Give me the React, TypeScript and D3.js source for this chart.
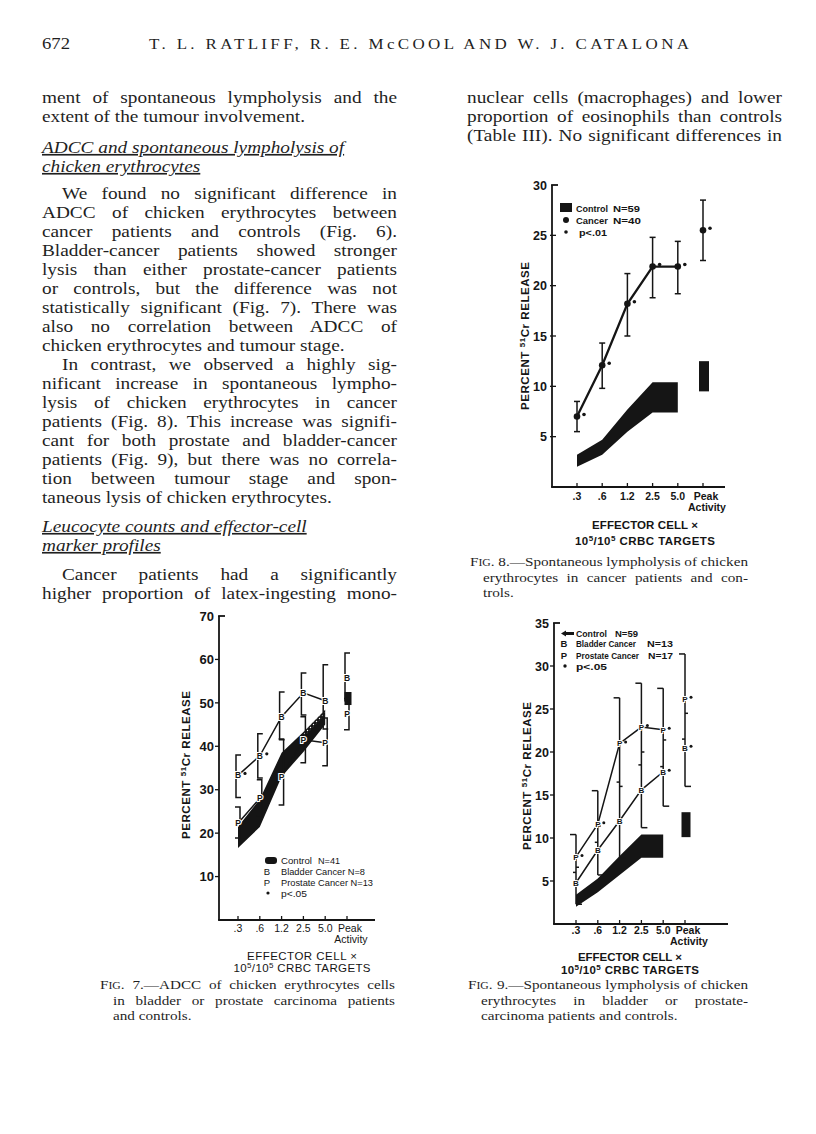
import React, { useLayoutEffect, useRef } from 'react';
import * as d3 from 'd3';

// ---------- shared ----------
const categories = ['.3', '.6', '1.2', '2.5', '5.0', 'Peak'];
const bandCategories = ['.3', '.6', '1.2', '2.5', '5.0'];

// ---------- Fig. 7: ADCC of chicken erythrocytes ----------
const fig7Ticks = [10, 20, 30, 40, 50, 60, 70];
const fig7BladderMean = [33.3, 37.8, 46.8, 52.3, 50.5, 55.8];
const fig7BladderLow = [28.2, 32.7, 41.5, 47.2, 44.0, 50.5];
const fig7BladderHigh = [38.0, 42.9, 52.5, 56.9, 58.8, 61.5];
const fig7BladderSig = [true, true, false, false, false, false];
const fig7ProstateMean = [22.3, 28.0, 33.0, 41.5, 40.8, 47.5];
const fig7ProstateLow = [18.9, 24.0, 26.5, 36.2, 35.5, 43.8];
const fig7ProstateHigh = [26.0, 32.3, 41.7, 46.8, 46.5, 51.0];
const fig7ControlUpper = [21.5, 27.8, 38.5, 43.3, 48.4];
const fig7ControlLower = [16.6, 21.4, 33.0, 38.7, 45.0];
const fig7ControlPeak = [49.5, 52.5];
const fig7StippleCategories = ['2.5', '5.0'];

// ---------- Fig. 8: spontaneous lympholysis, cancer vs control ----------
const fig8Ticks = [5, 10, 15, 20, 25, 30];
const fig8CancerMean = [7.0, 12.1, 18.2, 21.9, 21.9, 25.5];
const fig8CancerLow = [5.5, 9.8, 15.0, 18.8, 19.2, 22.5];
const fig8CancerHigh = [8.5, 14.3, 21.2, 24.8, 24.4, 28.5];
const fig8ControlUpper = [3.2, 4.7, 7.7, 10.4, 10.4];
const fig8ControlLower = [2.0, 3.2, 5.5, 7.4, 7.4];
const fig8ControlPeak = [9.5, 12.5];

// ---------- Fig. 9: spontaneous lympholysis, bladder / prostate ----------
const fig9Ticks = [5, 10, 15, 20, 25, 30, 35];
const fig9ProstateMean = [7.8, 11.6, 21.0, 22.9, 22.6, 26.2];
const fig9ProstateLow = [6.0, 9.5, 16.5, 18.5, 18.3, 21.5];
const fig9ProstateHigh = [10.4, 15.5, 26.3, 28.0, 27.4, 31.4];
const fig9ProstateSig = [true, true, true, true, true, true];
const fig9BladderMean = [4.8, 8.6, 12.0, 15.6, 17.7, 20.5];
const fig9BladderLow = [2.3, 5.7, 7.7, 11.2, 13.7, 16.0];
const fig9BladderHigh = [6.6, 11.4, 16.0, 20.0, 21.4, 24.5];
const fig9BladderSig = [false, false, false, false, true, true];
const fig9ControlUpper = [3.4, 5.3, 7.9, 10.4, 10.4];
const fig9ControlLower = [2.0, 3.7, 5.7, 7.7, 7.7];
const fig9ControlPeak = [10.1, 13.0];

// ---------- page text ----------
const headerNumber = '672';
const headerTitle = 'T. L. RATLIFF, R. E. McCOOL AND W. J. CATALONA';

const leftColumn = [
  { t: 'ment of spontaneous lympholysis and the', k: 'j' },
  { t: 'extent of the tumour involvement.', k: 'l' },
  { t: 'ADCC and spontaneous lympholysis of', k: 'h', gap: 12 },
  { t: 'chicken erythrocytes', k: 'h' },
  { t: 'We found no significant difference in', k: 'j', ind: true, gap: 8 },
  { t: 'ADCC of chicken erythrocytes between', k: 'j' },
  { t: 'cancer patients and controls (Fig. 6).', k: 'j' },
  { t: 'Bladder-cancer patients showed stronger', k: 'j' },
  { t: 'lysis than either prostate-cancer patients', k: 'j' },
  { t: 'or controls, but the difference was not', k: 'j' },
  { t: 'statistically significant (Fig. 7). There was', k: 'j' },
  { t: 'also no correlation between ADCC of', k: 'j' },
  { t: 'chicken erythrocytes and tumour stage.', k: 'l' },
  { t: 'In contrast, we observed a highly sig-', k: 'j', ind: true },
  { t: 'nificant increase in spontaneous lympho-', k: 'j' },
  { t: 'lysis of chicken erythrocytes in cancer', k: 'j' },
  { t: 'patients (Fig. 8). This increase was signifi-', k: 'j' },
  { t: 'cant for both prostate and bladder-cancer', k: 'j' },
  { t: 'patients (Fig. 9), but there was no correla-', k: 'j' },
  { t: 'tion between tumour stage and spon-', k: 'j' },
  { t: 'taneous lysis of chicken erythrocytes.', k: 'l' },
  { t: 'Leucocyte counts and effector-cell', k: 'h', gap: 10 },
  { t: 'marker profiles', k: 'h' },
  { t: 'Cancer patients had a significantly', k: 'j', ind: true, gap: 10 },
  { t: 'higher proportion of latex-ingesting mono-', k: 'j' },
];

const rightColumn = [
  { t: 'nuclear cells (macrophages) and lower', k: 'j' },
  { t: 'proportion of eosinophils than controls', k: 'j' },
  { t: '(Table III). No significant differences in', k: 'j' },
];

const caption7 = ['7.—ADCC of chicken erythrocytes cells', 'in bladder or prostate carcinoma patients', 'and controls.'];
const caption8 = ['8.—Spontaneous lympholysis of chicken', 'erythrocytes in cancer patients and con-', 'trols.'];
const caption9 = ['9.—Spontaneous lympholysis of chicken', 'erythrocytes in bladder or prostate-', 'carcinoma patients and controls.'];

const SERIF = "'Liberation Serif', 'Times New Roman', serif";
const SANS = "'Liberation Sans', Arial, sans-serif";
const INK = '#151515';
const TEXT_INK = '#1f1f1f';

const LINE = 19;
const INDENT = 20;
const STRETCH = 1.17; // the printed face is wider than Times

// justify lines by spreading word spacing so each reaches its wanted width
function useJustify() {
  const ref = useRef(null);
  useLayoutEffect(() => {
    const root = ref.current;
    if (!root) return;
    root.querySelectorAll('text[data-w]').forEach((el) => {
      el.setAttribute('word-spacing', '0');
      const w = +el.getAttribute('data-w') / STRETCH;
      const spaces = (el.textContent.match(/ /g) || []).length;
      const len = el.getComputedTextLength();
      if (spaces > 0) el.setAttribute('word-spacing', String((w - len) / spaces));
    });
  });
  return ref;
}

function Column({ lines, x, width, top }) {
  const ref = useJustify();
  let y = top - LINE;
  const rows = lines.map((ln) => {
    y += LINE + (ln.gap || 0);
    return { ...ln, y };
  });
  return (
    <g ref={ref} fontFamily={SERIF} fontSize={16.5} fill={TEXT_INK}>
      {rows.map((r, i) => {
        const x0 = x + (r.ind ? INDENT : 0);
        const tr = `translate(${r.k === 'h' ? x : x0},${r.y}) scale(${STRETCH},1)`;
        if (r.k === 'h') {
          return (
            <text key={i} transform={tr} fontStyle="italic" textDecoration="underline">
              {r.t}
            </text>
          );
        }
        return (
          <text key={i} transform={tr} data-w={r.k === 'j' ? width - (x0 - x) : undefined}>
            {r.t}
          </text>
        );
      })}
    </g>
  );
}

function Caption({ lines, x, right, top }) {
  const ref = useJustify();
  return (
    <g ref={ref} fontFamily={SERIF} fontSize={13} fill={TEXT_INK}>
      {lines.map((t, i) => {
        const x0 = i === 0 ? x : x + 13;
        const last = i === lines.length - 1;
        return (
          <text
            key={i}
            transform={`translate(${x0},${top + i * 15.5}) scale(${STRETCH},1)`}
            data-w={last ? undefined : right - x0}
          >
            {i === 0 ? (
              <>
                <tspan>F</tspan>
                <tspan fontSize={10}>IG</tspan>
                <tspan>. {t}</tspan>
              </>
            ) : (
              t
            )}
          </text>
        );
      })}
    </g>
  );
}

function makeScales(cat0, cat1, yZero, yTop, yMax) {
  const x = d3.scalePoint().domain(categories).range([cat0, cat1]);
  const y = d3.scaleLinear().domain([0, yMax]).range([yZero, yTop]);
  return { x, y };
}

function Axes({ x, y, axisX, axisRight, ticks, tickOut, weight, tickFont, labelBase, actBase, t1, t2, tcx, effW, crbcW, ytx, ytcy }) {
  const y0 = y(0);
  const top = y(y.domain()[1]);
  return (
    <g fontFamily={SANS} fill={INK} fontWeight={weight}>
      <line x1={axisX} x2={axisX} y1={y0} y2={top} stroke={INK} strokeWidth={1.8} />
      <line x1={axisX - 0.9} x2={axisX + 6} y1={top} y2={top} stroke={INK} strokeWidth={1.8} />
      <line x1={axisX - 0.9} x2={axisRight} y1={y0} y2={y0} stroke={INK} strokeWidth={1.8} />
      {ticks.map((t) => (
        <g key={t}>
          {t !== y.domain()[1] && (
            <line
              x1={tickOut ? axisX - 4 : axisX - 2}
              x2={tickOut ? axisX : axisX + 4}
              y1={y(t)}
              y2={y(t)}
              stroke={INK}
              strokeWidth={1.3}
            />
          )}
          <text x={axisX - 5} y={y(t)} dy="0.36em" textAnchor="end" fontSize={tickFont} fontWeight="bold">
            {t}
          </text>
        </g>
      ))}
      {categories.map((c) => (
        <line key={c} x1={x(c)} x2={x(c)} y1={y0} y2={y0 - 4} stroke={INK} strokeWidth={1.3} />
      ))}
      {categories.map((c) => (
        <text key={c} x={x(c) + (c === 'Peak' ? 3 : 0)} y={labelBase} textAnchor="middle" fontSize={10.5}>
          {c}
        </text>
      ))}
      <text x={x('Peak') + 4} y={actBase} textAnchor="middle" fontSize={10.5}>
        Activity
      </text>
      <text x={tcx} y={t1} textAnchor="middle" fontSize={11.5} textLength={effW} lengthAdjust="spacing">
        EFFECTOR CELL ×
      </text>
      <text x={tcx} y={t2} textAnchor="middle" fontSize={11.5} textLength={crbcW} lengthAdjust="spacing">
        10<tspan dy={-4} fontSize={8}>5</tspan>
        <tspan dy={4}>/10</tspan>
        <tspan dy={-4} fontSize={8}>5</tspan>
        <tspan dy={4}> CRBC TARGETS</tspan>
      </text>
      <text
        transform={`translate(${ytx},${ytcy}) rotate(-90)`}
        textAnchor="middle"
        dy="0.36em"
        fontSize={11.5}
        fontWeight="bold"
        textLength={148}
        lengthAdjust="spacing"
      >
        PERCENT <tspan dy={-4} fontSize={8}>51</tspan>
        <tspan dy={4}>Cr RELEASE</tspan>
      </text>
    </g>
  );
}

function ControlBand({ x, y, upper, lower, peak, peakW }) {
  const area = d3
    .area()
    .x((d) => x(d))
    .y0((d, i) => y(lower[i]))
    .y1((d, i) => y(upper[i]));
  return (
    <g fill={INK}>
      <path d={area(bandCategories)} />
      <rect x={x('Peak') + 1 - peakW / 2} y={y(peak[1])} width={peakW} height={y(peak[0]) - y(peak[1])} />
    </g>
  );
}

function LetterMarker({ cx, cy, ch, size }) {
  return (
    <text
      x={cx}
      y={cy}
      dy="0.36em"
      textAnchor="middle"
      fontFamily={SANS}
      fontWeight="bold"
      fontSize={size}
      fill={INK}
      stroke="#fff"
      strokeWidth={2.2}
      paintOrder="stroke"
    >
      {ch}
    </text>
  );
}

// legend text squeezed to its measured width
function LT({ x, y, w, children, anchor }) {
  return (
    <text x={x} y={y} textLength={w} lengthAdjust="spacingAndGlyphs" textAnchor={anchor}>
      {children}
    </text>
  );
}

// ---------- Fig. 7 ----------
function Fig7() {
  const { x, y } = makeScales(238, 347, 920, 616, 70);
  const line = d3.line().x((d) => x(d[0])).y((d) => y(d[1]));
  const b = bandCategories.map((c, i) => [c, fig7BladderMean[i]]);
  const p = bandCategories.map((c, i) => [c, fig7ProstateMean[i]]);
  // stippled upper edge of the control band (print shading)
  const stipple = d3
    .area()
    .x((d) => x(d))
    .y1((d) => y(fig7ControlUpper[bandCategories.indexOf(d)]))
    .y0((d) => y(fig7ControlUpper[bandCategories.indexOf(d)]) + 5);
  return (
    <g>
      <defs>
        <pattern id="stip7" width={3} height={3} patternUnits="userSpaceOnUse">
          <circle cx={1.5} cy={1.5} r={0.7} fill="#fff" />
        </pattern>
      </defs>
      <ControlBand x={x} y={y} upper={fig7ControlUpper} lower={fig7ControlLower} peak={fig7ControlPeak} peakW={7} />
      <path d={stipple(fig7StippleCategories)} fill="url(#stip7)" />
      <g stroke={INK} strokeWidth={1.5} fill="none">
        <path d={line(b)} />
        <path d={line(p)} />
        {categories.map((c, i) => (
          <g key={c}>
            <path d={`M${x(c) + 3},${y(fig7BladderHigh[i])}H${x(c) - 2}V${y(fig7BladderLow[i])}H${x(c) + 3}`} />
            <path d={`M${x(c) - 3},${y(fig7ProstateHigh[i])}H${x(c) + 2}V${y(fig7ProstateLow[i])}H${x(c) - 3}`} />
          </g>
        ))}
      </g>
      {categories.map((c, i) => (
        <g key={c}>
          <LetterMarker cx={x(c)} cy={y(fig7BladderMean[i])} ch="B" size={8.5} />
          <LetterMarker cx={x(c)} cy={y(fig7ProstateMean[i])} ch="P" size={8.5} />
          {fig7BladderSig[i] && <circle cx={x(c) + 7} cy={y(fig7BladderMean[i]) - 2} r={1.6} fill={INK} />}
        </g>
      ))}
      <Axes
        x={x}
        y={y}
        axisX={219}
        axisRight={375}
        ticks={fig7Ticks}
        tickOut
        weight="normal"
        tickFont={13}
        labelBase={932}
        actBase={943}
        t1={960}
        t2={972}
        tcx={302}
        effW={110}
        crbcW={137}
        ytx={186}
        ytcy={765}
      />
      <g fontFamily={SANS} fontSize={9.5} fill={INK}>
        <rect x={265} y={857} width={12} height={7} rx={3} fill={INK} />
        <LT x={281} y={864} w={31}>Control</LT>
        <LT x={318} y={864} w={22}>N=41</LT>
        <text x={267} y={875} textAnchor="middle">B</text>
        <LT x={281} y={875} w={84}>Bladder Cancer N=8</LT>
        <text x={267} y={886} textAnchor="middle">P</text>
        <LT x={281} y={886} w={92}>Prostate Cancer N=13</LT>
        <circle cx={268} cy={893} r={1.6} />
        <LT x={281} y={897} w={26}>p&lt;.05</LT>
      </g>
    </g>
  );
}

// ---------- Fig. 8 ----------
function Fig8() {
  const { x, y } = makeScales(577, 703, 487, 185, 30);
  const line = d3.line().x((d) => x(d[0])).y((d) => y(d[1]));
  const pts = bandCategories.map((c, i) => [c, fig8CancerMean[i]]);
  return (
    <g>
      <ControlBand x={x} y={y} upper={fig8ControlUpper} lower={fig8ControlLower} peak={fig8ControlPeak} peakW={10} />
      <path d={line(pts)} stroke={INK} strokeWidth={2.3} fill="none" />
      <g stroke={INK} strokeWidth={1.5}>
        {categories.map((c, i) => (
          <g key={c}>
            <line x1={x(c)} x2={x(c)} y1={y(fig8CancerLow[i])} y2={y(fig8CancerHigh[i])} />
            <line x1={x(c) - 3} x2={x(c) + 3} y1={y(fig8CancerLow[i])} y2={y(fig8CancerLow[i])} />
            <line x1={x(c) - 3} x2={x(c) + 3} y1={y(fig8CancerHigh[i])} y2={y(fig8CancerHigh[i])} />
          </g>
        ))}
      </g>
      {categories.map((c, i) => (
        <g key={c} fill={INK}>
          <circle cx={x(c)} cy={y(fig8CancerMean[i])} r={3.3} />
          <circle cx={x(c) + 7} cy={y(fig8CancerMean[i]) - 2} r={1.8} />
        </g>
      ))}
      <Axes
        x={x}
        y={y}
        axisX={552}
        axisRight={725}
        ticks={fig8Ticks}
        tickOut={false}
        weight="bold"
        tickFont={12.5}
        labelBase={500}
        actBase={511}
        t1={529}
        t2={545}
        tcx={645}
        effW={106}
        crbcW={140}
        ytx={525}
        ytcy={336}
      />
      <g fontFamily={SANS} fontSize={9.5} fontWeight="bold" fill={INK}>
        <rect x={560} y={203} width={12} height={9} />
        <LT x={576} y={212} w={32}>Control</LT>
        <LT x={613} y={212} w={27}>N=59</LT>
        <circle cx={566} cy={220} r={3} />
        <LT x={576} y={224} w={32}>Cancer</LT>
        <LT x={613} y={224} w={28}>N=40</LT>
        <circle cx={566} cy={232} r={1.8} />
        <LT x={579} y={236} w={28}>p&lt;.01</LT>
      </g>
    </g>
  );
}

// ---------- Fig. 9 ----------
function Fig9() {
  const { x, y } = makeScales(576, 685, 924, 623, 35);
  const line = d3.line().x((d) => x(d[0])).y((d) => y(d[1]));
  const pLine = bandCategories.map((c, i) => [c, fig9ProstateMean[i]]);
  const bLine = bandCategories.map((c, i) => [c, fig9BladderMean[i]]);
  return (
    <g>
      <ControlBand x={x} y={y} upper={fig9ControlUpper} lower={fig9ControlLower} peak={fig9ControlPeak} peakW={9} />
      <g stroke={INK} strokeWidth={1.5} fill="none">
        <path d={line(pLine)} />
        <path d={line(bLine)} />
        {categories.map((c, i) => (
          <g key={c}>
            <line x1={x(c)} x2={x(c)} y1={y(fig9BladderLow[i])} y2={y(fig9ProstateHigh[i])} />
            <line x1={x(c) - 6} x2={x(c)} y1={y(fig9ProstateHigh[i])} y2={y(fig9ProstateHigh[i])} />
            <line x1={x(c)} x2={x(c) + 6} y1={y(fig9BladderLow[i])} y2={y(fig9BladderLow[i])} />
            <line x1={x(c) - 3} x2={x(c)} y1={y(fig9ProstateLow[i])} y2={y(fig9ProstateLow[i])} />
            <line x1={x(c)} x2={x(c) + 3} y1={y(fig9BladderHigh[i])} y2={y(fig9BladderHigh[i])} />
          </g>
        ))}
      </g>
      {categories.map((c, i) => (
        <g key={c}>
          <LetterMarker cx={x(c)} cy={y(fig9ProstateMean[i])} ch="P" size={8} />
          <LetterMarker cx={x(c)} cy={y(fig9BladderMean[i])} ch="B" size={8} />
          {fig9ProstateSig[i] && <circle cx={x(c) + 6} cy={y(fig9ProstateMean[i]) - 1.5} r={1.5} fill={INK} />}
          {fig9BladderSig[i] && <circle cx={x(c) + 6} cy={y(fig9BladderMean[i]) - 1.5} r={1.5} fill={INK} />}
        </g>
      ))}
      <Axes
        x={x}
        y={y}
        axisX={554}
        axisRight={728}
        ticks={fig9Ticks}
        tickOut
        weight="bold"
        tickFont={12.5}
        labelBase={934}
        actBase={945}
        t1={961}
        t2={974}
        tcx={630}
        effW={104}
        crbcW={138}
        ytx={527}
        ytcy={776}
      />
      <g fontFamily={SANS} fontSize={9.5} fontWeight="bold" fill={INK}>
        <path d="M561,633.5 L566,630.5 L566,632 L574,632 L574,635 L566,635 L566,636.5 Z" />
        <LT x={576} y={637} w={31}>Control</LT>
        <LT x={615} y={637} w={23}>N=59</LT>
        <text x={564} y={647} textAnchor="middle">B</text>
        <LT x={576} y={647} w={60}>Bladder Cancer</LT>
        <LT x={647} y={647} w={26}>N=13</LT>
        <text x={564} y={659} textAnchor="middle">P</text>
        <LT x={576} y={659} w={63}>Prostate Cancer</LT>
        <LT x={648} y={659} w={25}>N=17</LT>
        <circle cx={565} cy={666} r={1.7} />
        <LT x={576} y={670} w={31}>p&lt;.05</LT>
      </g>
    </g>
  );
}

export default function App() {
  return (
    <div style={{ position: 'absolute', left: 0, top: 0 }}>
      <svg width={816} height={1134} style={{ display: 'block', background: '#fff' }}>
        <g fontFamily={SERIF} fill={TEXT_INK}>
          <text transform={`translate(42,49) scale(${STRETCH},1)`} fontSize={16}>
            {headerNumber}
          </text>
          <text
            transform={`translate(419,49) scale(${STRETCH},1)`}
            fontSize={14.5}
            textAnchor="middle"
            textLength={540 / STRETCH}
            lengthAdjust="spacing"
          >
            {headerTitle}
          </text>
        </g>
        <Column lines={leftColumn} x={42} width={355} top={103} />
        <Column lines={rightColumn} x={467} width={315} top={103} />
        <Fig8 />
        <Caption lines={caption8} x={470} right={748} top={566} />
        <Fig7 />
        <Caption lines={caption7} x={100} right={395} top={989} />
        <Fig9 />
        <Caption lines={caption9} x={468} right={748} top={989} />
      </svg>
    </div>
  );
}
